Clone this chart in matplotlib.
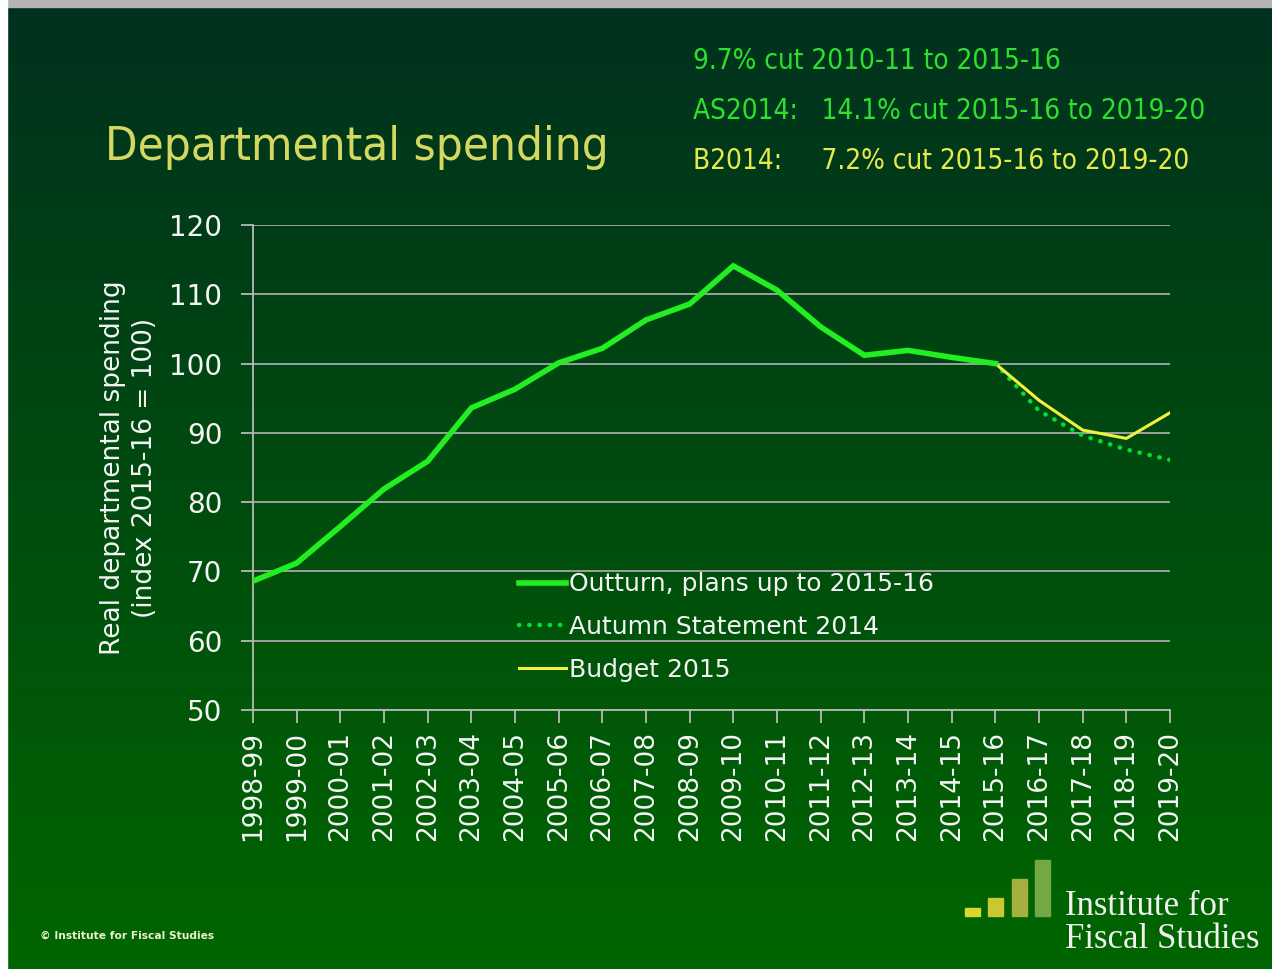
import matplotlib.pyplot as plt
import matplotlib.patches as mpatches
import numpy as np

years = ['1998-99', '1999-00', '2000-01', '2001-02', '2002-03', '2003-04',
         '2004-05', '2005-06', '2006-07', '2007-08', '2008-09', '2009-10',
         '2010-11', '2011-12', '2012-13', '2013-14', '2014-15', '2015-16',
         '2016-17', '2017-18', '2018-19', '2019-20']
outturn = [68.6, 71.2, 76.5, 81.9, 85.9, 93.6, 96.3, 100.1, 102.2, 106.3,
           108.6, 114.1, 110.6, 105.3, 101.2, 101.9, 100.9, 100.0]
autumn_2014 = [100.0, 93.2, 89.6, 87.6, 86.1]
budget_2015 = [100.0, 94.7, 90.4, 89.2, 92.9]

fig = plt.figure(figsize=(12.72, 9.69), dpi=100)

# background gradient, dark at top, brighter green at bottom
bg = fig.add_axes([0, 0, 1, 1], zorder=-10)
t = np.linspace(0, 1, 256)[:, None]
top = np.array([0.0, 0.19, 0.12])
bot = np.array([0.0, 0.40, 0.0])
grad = top + (bot - top) * t
bg.imshow(grad[:, None, :].repeat(2, axis=1), aspect='auto', extent=[0, 1, 0, 1],
          origin='upper')
bg.set_xlim(0, 1)
bg.set_ylim(0, 1)
bg.axis('off')

# slide border strips
fig.patches.append(mpatches.Rectangle((0, 1 - 7 / 969), 1, 7 / 969, transform=fig.transFigure,
                                      color='#b4b4b4', zorder=5))
fig.patches.append(mpatches.Rectangle((0, 0), 7 / 1272, 1, transform=fig.transFigure,
                                      color='white', zorder=5))

ax = fig.add_axes([253 / 1272, 1 - 710 / 969, 917 / 1272, 485 / 969])
ax.set_facecolor('none')

x = np.arange(len(years))
n = len(outturn)
ax.plot(x[n - 1:], autumn_2014, color='#00dd33', lw=3.2, ls=(0, (0.1, 2.2)),
        dash_capstyle='round', label='Autumn Statement 2014', zorder=3)
ax.plot(x[n - 1:], budget_2015, color='#f2f23c', lw=2.2, label='Budget 2015', zorder=4)
ax.plot(x[:n], outturn, color='#22ee22', lw=4, label='Outturn, plans up to 2015-16',
        zorder=5, solid_joinstyle='miter')

ax.set_xlim(0, len(years) - 1)
ax.set_ylim(50, 120)
ax.set_yticks(range(50, 121, 10))
ax.set_xticks(x)
ax.set_xticklabels(years, rotation=90)
ax.grid(axis='y', color='#a8a8a8', lw=1.3)
ax.set_axisbelow(True)
for s in ['top', 'right']:
    ax.spines[s].set_visible(False)
for s in ['left', 'bottom']:
    ax.spines[s].set_color('#b8b8b8')
    ax.spines[s].set_linewidth(1.3)
ax.tick_params(colors='#b8b8b8', labelcolor='#f4f4f4', labelsize=19, length=9,
               width=1.3, direction='out')
ax.tick_params(axis='y', labelsize=20, pad=13)
ax.tick_params(axis='x', pad=6)
ax.set_ylabel('Real departmental spending\n(index 2015-16 = 100)', color='#f4f4f4',
              fontsize=19, labelpad=8, linespacing=1.3)

h, l = ax.get_legend_handles_labels()
order = [2, 0, 1]
leg = ax.legend([h[i] for i in order], [l[i] for i in order], loc='upper left',
                bbox_to_anchor=(0.265, 0.33), frameon=False, fontsize=18,
                handlelength=1.9, handletextpad=0.1, labelspacing=0.75)
for txt in leg.get_texts():
    txt.set_color('#f4f4f4')

cond = dict(family='DejaVu Sans', fontstretch='condensed')
fig.text(105 / 1272, 1 - 148 / 969, 'Departmental spending', color='#d4d860',
         fontsize=34, va='center', **cond)
fig.text(693 / 1272, 1 - 61 / 969, '9.7% cut 2010-11 to 2015-16', color='#2ee02e',
         fontsize=20, va='center', **cond)
fig.text(693 / 1272, 1 - 111 / 969, 'AS2014:   14.1% cut 2015-16 to 2019-20',
         color='#2ee02e', fontsize=20, va='center', **cond)
fig.text(693 / 1272, 1 - 161 / 969, 'B2014:     7.2% cut 2015-16 to 2019-20',
         color='#e8e84a', fontsize=20, va='center', **cond)

fig.text(40 / 1272, 1 - 936 / 969, '\u00a9 Institute for Fiscal Studies', color='#eef0c8',
         fontsize=7.7, fontweight='bold', va='center')

# IFS logo
logo_bars = [(965, 908, '#d8d830'), (988, 898, '#c8c830'), (1012, 879, '#a4b040'),
             (1035, 860, '#74a844')]
for bx, by, bc in logo_bars:
    fig.patches.append(mpatches.Rectangle((bx / 1272, 1 - 916 / 969), 15 / 1272,
                                          (916 - by) / 969, transform=fig.transFigure,
                                          color=bc))
fig.text(1065 / 1272, 1 - 923 / 969, 'Institute for\nFiscal Studies', color='#f0f0f0',
         fontsize=25, family='Liberation Serif', va='center', linespacing=1.0)

fig.savefig('out.png', dpi=100)
